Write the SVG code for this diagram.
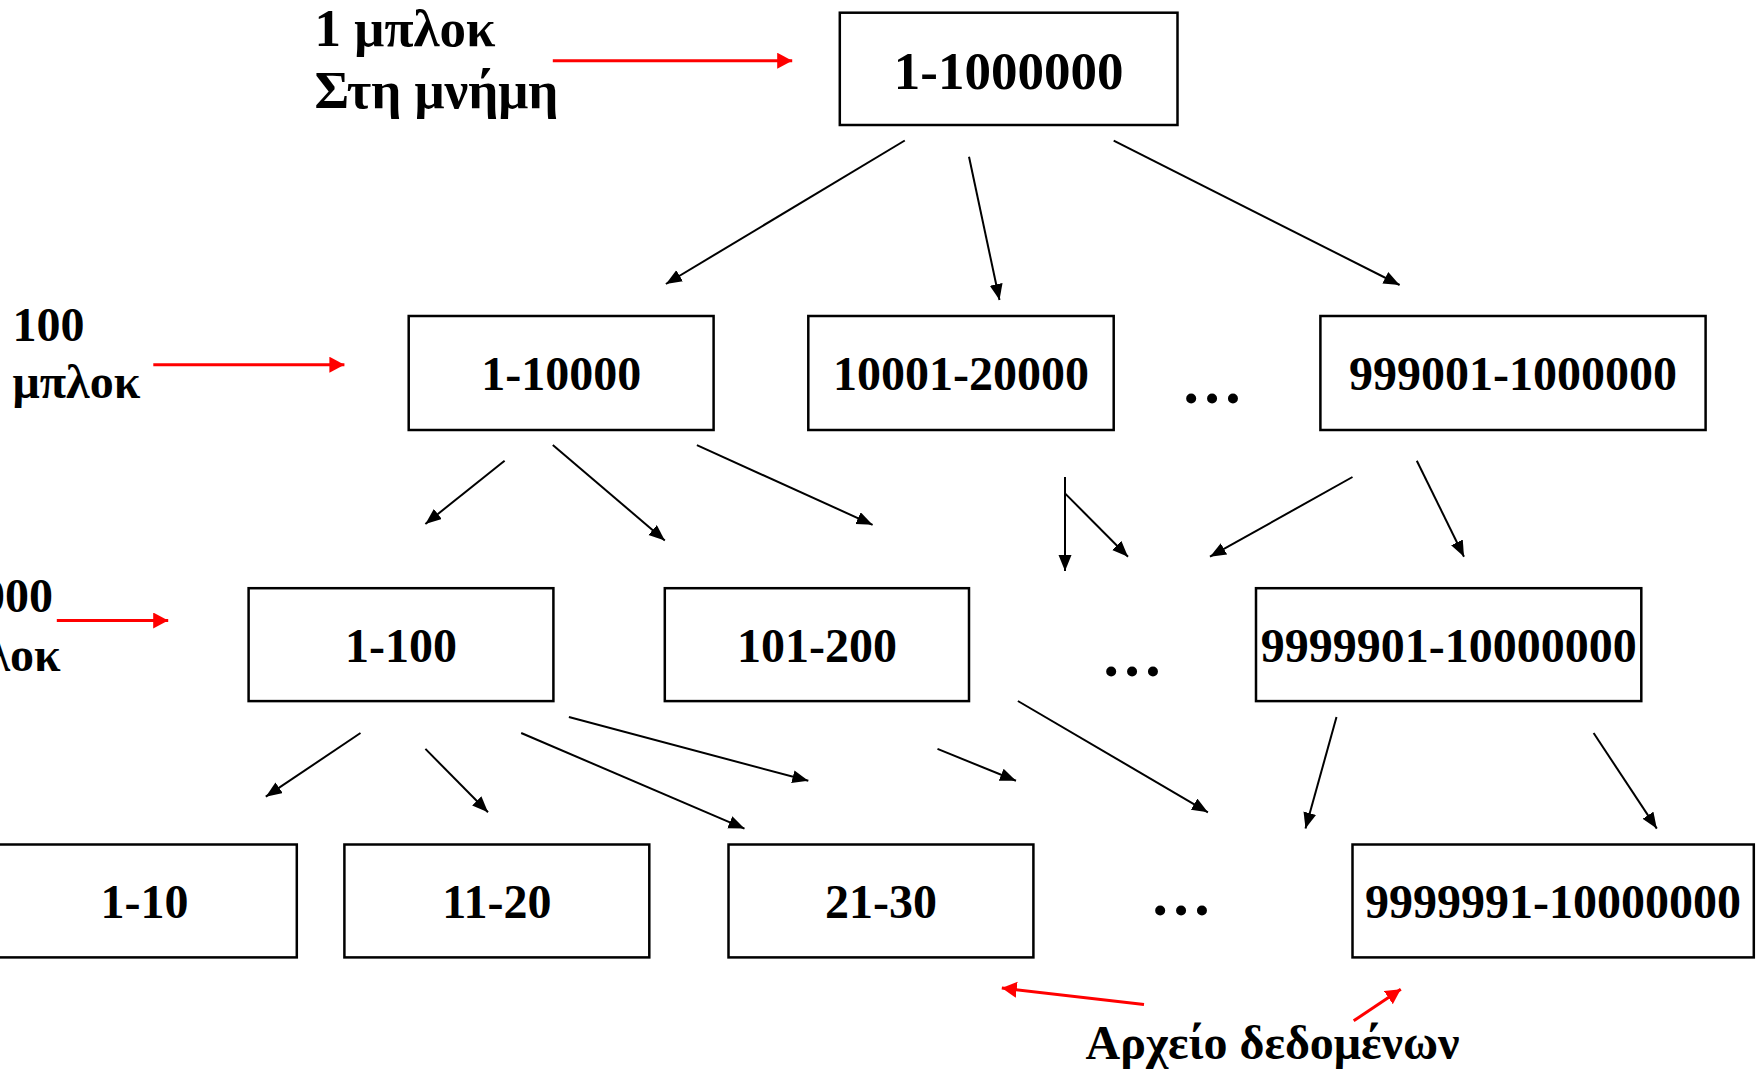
<svg xmlns="http://www.w3.org/2000/svg" width="1760" height="1071" viewBox="0 0 1760 1071">
  <style>
    .box { fill: #ffffff; stroke: #000000; stroke-width: 2.5; }
    .lbl { font-family: "Liberation Serif", "Times New Roman", serif; font-weight: bold; fill: #000000; }
    .big { font-size: 53px; }
    .mid { font-size: 48px; }
    .ctr { text-anchor: middle; }
    .dots { font-family: "Liberation Serif", serif; font-weight: bold; font-size: 62px; text-anchor: middle; }
    .edge { stroke: #000000; stroke-width: 2; fill: none; marker-end: url(#arrow); }
    .red { stroke: #ff0000; stroke-width: 3; fill: none; marker-end: url(#redArrow); }
  </style>
  <defs>
    <marker id="arrow" markerUnits="userSpaceOnUse" markerWidth="18" markerHeight="14" refX="16" refY="6.5" orient="auto">
      <path d="M0,0 L16,6.5 L0,13 z" fill="#000000"/>
    </marker>
    <marker id="redArrow" markerUnits="userSpaceOnUse" markerWidth="18" markerHeight="18" refX="15" refY="8" orient="auto">
      <path d="M0,0 L15,8 L0,16 z" fill="#ff0000"/>
    </marker>
  </defs>
  <rect width="1760" height="1071" fill="#ffffff"/>

  <!-- level labels -->
  <g id="label-root">
    <text class="lbl big" x="314.6" y="45.7">1 μπλοκ</text>
    <text class="lbl big" x="314.6" y="108">Στη μνήμη</text>
  </g>
  <g id="label-level2">
    <text class="lbl mid" x="12.6" y="340.7">100</text>
    <text class="lbl mid" x="12.6" y="398">μπλοκ</text>
  </g>
  <g id="label-level3">
    <text class="lbl mid" x="-67" y="612">10000</text>
    <text class="lbl mid" x="-67" y="671">μπλοκ</text>
  </g>
  <g id="label-data">
    <text class="lbl mid" x="1085.6" y="1058.8">Αρχείο δεδομένων</text>
  </g>

  <!-- root -->
  <g id="n-root">
    <rect class="box" x="839.8" y="12.7" width="337.7" height="112.3"/>
    <text class="lbl big ctr" x="1008.7" y="89.3">1-1000000</text>
  </g>

  <!-- level 2 -->
  <g id="n-1-10000">
    <rect class="box" x="408.7" y="316" width="304.9" height="114"/>
    <text class="lbl mid ctr" x="561.2" y="390">1-10000</text>
  </g>
  <g id="n-10001-20000">
    <rect class="box" x="808.3" y="316" width="305.4" height="114"/>
    <text class="lbl mid ctr" x="961" y="390">10001-20000</text>
  </g>
  <g id="n-999001-1000000">
    <rect class="box" x="1320.4" y="316" width="385.2" height="114"/>
    <text class="lbl mid ctr" x="1513" y="390">999001-1000000</text>
  </g>
  <text class="dots" x="1212" y="403">…</text>

  <!-- level 3 -->
  <g id="n-1-100">
    <rect class="box" x="248.6" y="588.2" width="304.8" height="112.9"/>
    <text class="lbl mid ctr" x="401" y="662">1-100</text>
  </g>
  <g id="n-101-200">
    <rect class="box" x="664.8" y="588.2" width="304.2" height="112.9"/>
    <text class="lbl mid ctr" x="816.9" y="662">101-200</text>
  </g>
  <g id="n-9999901-10000000">
    <rect class="box" x="1256" y="588.2" width="385.3" height="112.9"/>
    <text class="lbl mid ctr" x="1448.7" y="662">9999901-10000000</text>
  </g>
  <text class="dots" x="1132" y="676">…</text>

  <!-- data blocks -->
  <g id="n-1-10">
    <rect class="box" x="-8" y="844.5" width="304.8" height="112.9"/>
    <text class="lbl mid ctr" x="144.4" y="917.7">1-10</text>
  </g>
  <g id="n-11-20">
    <rect class="box" x="344.4" y="844.5" width="304.9" height="112.9"/>
    <text class="lbl mid ctr" x="496.9" y="917.7">11-20</text>
  </g>
  <g id="n-21-30">
    <rect class="box" x="728.5" y="844.5" width="304.9" height="112.9"/>
    <text class="lbl mid ctr" x="881" y="917.7">21-30</text>
  </g>
  <g id="n-9999991-10000000">
    <rect class="box" x="1352.5" y="844.5" width="401.3" height="112.9"/>
    <text class="lbl mid ctr" x="1553" y="917.7">9999991-10000000</text>
  </g>
  <text class="dots" x="1181" y="915">…</text>

  <!-- connectors -->
  <g id="connectors">
    <line class="edge" x1="904.8" y1="140.5" x2="665.9" y2="284"/>
    <line class="edge" x1="969" y1="156.7" x2="999.5" y2="300"/>
    <line class="edge" x1="1113.7" y1="140.7" x2="1399.6" y2="285"/>

    <line class="edge" x1="504.6" y1="460.7" x2="425.4" y2="524"/>
    <line class="edge" x1="552.8" y1="445.1" x2="664.8" y2="540.4"/>
    <line class="edge" x1="696.9" y1="445.1" x2="872.6" y2="524.8"/>
    <line class="edge" x1="1065" y1="477" x2="1065" y2="571"/>
    <line class="edge" x1="1065" y1="493.4" x2="1128" y2="556.7"/>
    <line class="edge" x1="1352.5" y1="477" x2="1210" y2="556.7"/>
    <line class="edge" x1="1416.8" y1="460.7" x2="1464" y2="556.7"/>

    <line class="edge" x1="360.5" y1="733" x2="265.8" y2="796.7"/>
    <line class="edge" x1="425.4" y1="748.9" x2="488" y2="812.3"/>
    <line class="edge" x1="521.2" y1="733" x2="744.5" y2="828.6"/>
    <line class="edge" x1="568.9" y1="717" x2="808.3" y2="780.8"/>
    <line class="edge" x1="937.5" y1="748.9" x2="1016" y2="780.8"/>
    <line class="edge" x1="1017.9" y1="701" x2="1207.9" y2="812.3"/>
    <line class="edge" x1="1336.5" y1="717" x2="1305.5" y2="828.6"/>
    <line class="edge" x1="1593.6" y1="733" x2="1656.8" y2="828.6"/>

    <line class="red" x1="552.8" y1="60.7" x2="792.2" y2="60.7"/>
    <line class="red" x1="153.3" y1="364.7" x2="344.4" y2="364.7"/>
    <line class="red" x1="56.8" y1="620.5" x2="168.2" y2="620.5"/>
    <line class="red" x1="1144" y1="1004.4" x2="1001.8" y2="988"/>
    <line class="red" x1="1353.7" y1="1020.8" x2="1400.8" y2="989.3"/>
  </g>
</svg>
